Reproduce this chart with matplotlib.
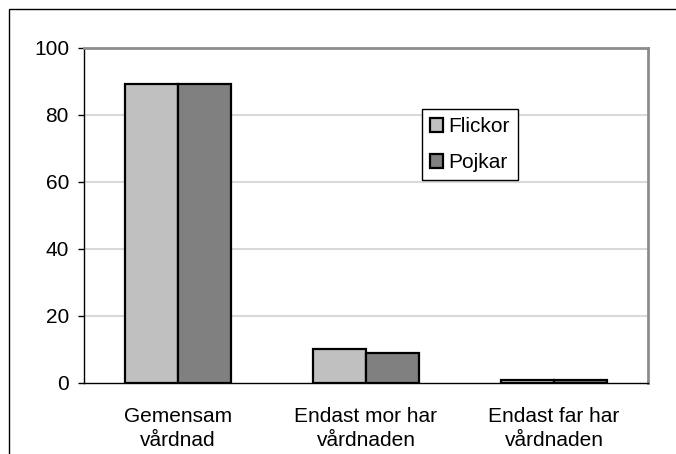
import matplotlib
matplotlib.use("Agg")
import matplotlib.pyplot as plt
from matplotlib.patches import Rectangle
import numpy as np

categories = ["Gemensam\nvårdnad", "Endast mor har\nvårdnaden", "Endast far har\nvårdnaden"]
flickor = [89, 10, 1]
pojkar = [89, 9, 1]
series_names = ["Flickor", "Pojkar"]
yticks = [0, 20, 40, 60, 80, 100]

plt.rcParams['font.family'] = ['Liberation Sans', 'DejaVu Sans']
FS = 15

W, H = 676, 454
fig = plt.figure(figsize=(W / 100, H / 100), dpi=100)
ax = fig.add_axes([84 / W, 1 - 383 / H, (648 - 84) / W, (383 - 47.5) / H])

x = np.arange(len(categories))
bw = 0.284
ax.bar(x - bw / 2, flickor, bw, color="#c0c0c0", edgecolor="black", linewidth=1.6,
       label=series_names[0], zorder=3)
ax.bar(x + bw / 2, pojkar, bw, color="#808080", edgecolor="black", linewidth=1.6,
       label=series_names[1], zorder=3)

ax.set_xlim(-0.5, 2.5)
ax.set_ylim(0, 100)
ax.set_yticks(yticks)
ax.set_yticklabels([str(t) for t in yticks], fontsize=FS)
ax.set_xticks(x)
ax.set_xticklabels(categories, fontsize=FS, linespacing=1.3)
ax.tick_params(axis='x', length=0, pad=17.5)
ax.tick_params(axis='y', length=4.3, width=1, pad=6.5, direction='out')

for v in yticks[1:-1]:
    ax.axhline(v, color="#d9d9d9", linewidth=1.5, zorder=1)

ax.spines['left'].set_color('black')
ax.spines['left'].set_linewidth(1)
ax.spines['bottom'].set_color('black')
ax.spines['bottom'].set_linewidth(1)
ax.spines['top'].set_color('#8c8c8c')
ax.spines['top'].set_linewidth(2)
ax.spines['right'].set_color('#8c8c8c')
ax.spines['right'].set_linewidth(2)

leg = ax.legend(loc='upper left', bbox_to_anchor=(421.5 / W, 1 - 109 / H),
                bbox_transform=fig.transFigure, borderaxespad=0, fontsize=FS,
                fancybox=False, shadow=False, framealpha=1, edgecolor='black',
                handlelength=0.65, handleheight=0.65, handletextpad=0.25,
                borderpad=0.4, labelspacing=0.8)
leg.get_frame().set_linewidth(1)

fig.add_artist(Rectangle((9 / W, -0.1), 1.2, 1 - 9 / H + 0.1, transform=fig.transFigure,
                         fill=False, edgecolor='black', linewidth=1))

fig.savefig("out.png", dpi=100)
